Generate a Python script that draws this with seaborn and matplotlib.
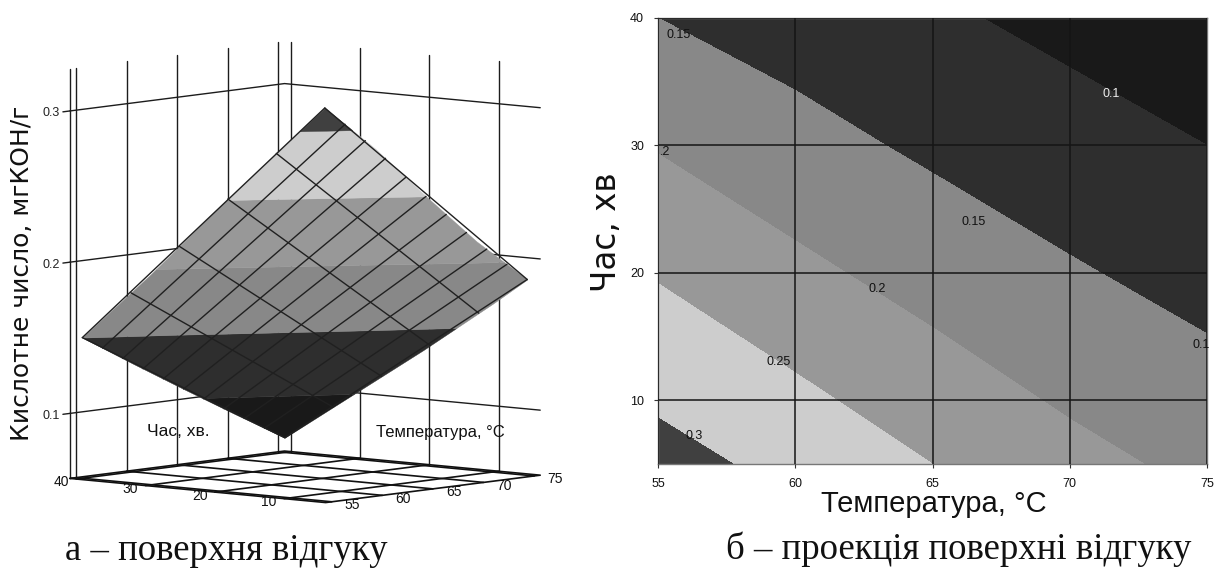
import numpy as np
import matplotlib
matplotlib.use("Agg")
import matplotlib.pyplot as plt
import seaborn as sns
from mpl_toolkits.mplot3d import proj3d
from mpl_toolkits.mplot3d.art3d import Poly3DCollection

# values
temps = [55, 60, 65, 70, 75]
times = [5, 10, 20, 30, 40]
acid_t5 = [0.3170, 0.2857, 0.2500, 0.2159, 0.1865]
acid_t10 = [0.2934, 0.2606, 0.2257, 0.1934, 0.1682]
acid_t20 = [0.2460, 0.2113, 0.1807, 0.1548, 0.1333]
acid_t30 = [0.1967, 0.1664, 0.1415, 0.1205, 0.1000]
acid_t40 = [0.1500, 0.1285, 0.1075, 0.0869, 0.0667]
levels = [0.0, 0.1, 0.15, 0.2, 0.25, 0.3, 0.4]
band_colors = ["#191919", "#2e2e2e", "#888888", "#989898", "#cdcdcd", "#404040"]
z_ticks = [0.1, 0.2, 0.3]
time_ticks = [10, 20, 30, 40]
mesh_temps = [55, 57, 59, 61, 63, 65, 67, 69, 71, 73, 75]
mesh_times = [5, 12, 19, 26, 33, 40]
contour_labels = ["0.15", ".2", "0.1", "0.15", "0.2", "0.25", "0.1", "0.3"]
label_temps = [55.75, 55.25, 71.5, 66.5, 63.0, 59.4, 74.8, 56.3]
label_times = [38.7, 29.5, 34.0, 24.0, 18.7, 13.0, 14.3, 7.2]
label_colors = ["#111111", "#111111", "#eeeeee", "#111111", "#111111", "#111111", "#111111", "#111111"]

sns.set_theme(style="white")
narrow = ["Liberation Sans"]
W, H = 1218, 568
Z = np.array([acid_t5, acid_t10, acid_t20, acid_t30, acid_t40])
palette = sns.color_palette(band_colors)


def surface_z(tp, tm):
    i = np.clip(np.searchsorted(temps, tp) - 1, 0, len(temps) - 2)
    j = np.clip(np.searchsorted(times, tm) - 1, 0, len(times) - 2)
    u = (tp - np.array(temps)[i]) / (np.array(temps)[i + 1] - np.array(temps)[i])
    v = (tm - np.array(times)[j]) / (np.array(times)[j + 1] - np.array(times)[j])
    return (Z[j, i] * (1 - u) * (1 - v) + Z[j, i + 1] * u * (1 - v)
            + Z[j + 1, i] * (1 - u) * v + Z[j + 1, i + 1] * u * v)


fig = plt.figure(figsize=(W / 100, H / 100), dpi=100)

# right: projection
ax2 = fig.add_axes([658 / W, 1 - 464 / H, (1207 - 658) / W, (464 - 18) / H])
cs = ax2.contourf(temps, times, Z, levels=levels, colors=palette)
ax2.set_xlim(55, 75)
ax2.set_ylim(5, 40)
ax2.set_xticks(temps)
ax2.set_yticks([10, 20, 30, 40])
ax2.grid(True, color="#151515", lw=1.1)
ax2.set_axisbelow(False)
for s in ax2.spines.values():
    s.set_color("#777777")
    s.set_linewidth(1.0)
ax2.tick_params(length=3, width=0.8, color="#333333", labelsize=9, pad=7, left=True, bottom=True)
for lab in ax2.get_xticklabels() + ax2.get_yticklabels():
    lab.set_family(narrow)
    lab.set_color("#111111")
for txt, x, y, c in zip(contour_labels, label_temps, label_times, label_colors):
    ax2.text(x, y, txt, color=c, fontsize=9, family=narrow, ha="center", va="center", clip_on=False)

# left: surface
S = 600
cx, cy = 297, 280
ax = fig.add_axes([(cx - S / 2) / W, 1 - (cy + S / 2) / H, S / W, S / H],
                  projection="3d", computed_zorder=False)
T_lo, T_hi, t_lo, t_hi, z_lo, z_hi = 54.4, 75.6, 4.0, 40.9, 0.057, 0.328
ax.set_proj_type("ortho")
ax.view_init(elev=6.3, azim=220.7)
ax.set_box_aspect((320, 328, 401), zoom=1.013)
ax.set_xlim(T_lo, T_hi, view_margin=0)
ax.set_ylim(t_lo, t_hi, view_margin=0)
ax.set_zlim(z_lo, z_hi, view_margin=0)
ax.set_axis_off()
ax.patch.set_alpha(0)


def label3d(x, y, z, txt, size, color="#111111"):
    px, py, _ = proj3d.proj_transform(x, y, z, ax.get_proj())
    ax.text2D(px, py, txt, transform=ax.transData, fontsize=size, family=narrow,
              ha="center", va="center", color=color)


line_kw = dict(color="#1c1c1c", lw=1.0, zorder=1)
for T in [T_lo] + temps:
    ax.plot([T, T], [t_hi, t_hi], [z_lo, z_hi], **line_kw)
for t in time_ticks:
    ax.plot([T_hi, T_hi], [t, t], [z_lo, z_hi], **line_kw)
for z in z_ticks:
    ax.plot([T_lo, T_hi, T_hi], [t_hi, t_hi, t_lo], [z, z, z], **line_kw)
    ax.plot([T_lo - 0.7, T_lo], [t_hi, t_hi], [z, z], **line_kw)
    label3d(T_lo - 1.9, t_hi, z, f"{z:.1f}", 9, "#222222")

base_kw = dict(color="#111111", lw=1.2, zorder=1)
for T in temps:
    ax.plot([T, T], [t_lo, t_hi], [z_lo, z_lo], **base_kw)
    label3d(T, t_lo - 3.0, z_lo - 0.001, str(T), 10)
for t in time_ticks:
    ax.plot([T_lo, T_hi], [t, t], [z_lo, z_lo], **base_kw)
    label3d(T_lo - 1.5, t, z_lo - 0.001, str(t), 10)
ax.plot([T_lo, T_hi, T_hi, T_lo, T_lo], [t_hi, t_hi, t_lo, t_lo, t_hi], [z_lo] * 5, **base_kw)

for k, path in enumerate(cs.get_paths()):
    for poly in path.to_polygons():
        if len(poly) < 3:
            continue
        verts = [(p, q, float(surface_z(p, q))) for p, q in poly]
        ax.add_collection3d(Poly3DCollection([verts], facecolors=[palette[k]], edgecolors=[palette[k]],
                                             linewidths=0.3, zorder=3), autolim=False)

mesh_kw = dict(color="#202020", lw=1.0, zorder=4)
for T in mesh_temps:
    ax.plot([T, T], [times[0], times[-1]], [float(surface_z(T, times[0])), float(surface_z(T, times[-1]))], **mesh_kw)
for t in mesh_times:
    ax.plot([temps[0], temps[-1]], [t, t], [float(surface_z(temps[0], t)), float(surface_z(temps[-1], t))], **mesh_kw)

# texts
fig.text(22 / W, 1 - 273 / H, "Кислотне число, мгКОН/г", rotation=90, fontsize=18,
         family="DejaVu Sans", ha="center", va="center", color="#111111")
fig.text(178 / W, 1 - 432 / H, "Час, хв.", fontsize=12.5, family=narrow, ha="center", va="center", color="#111111")
fig.text(440 / W, 1 - 432 / H, "Температура, °C", fontsize=12, family=narrow, ha="center", va="center", color="#111111")
fig.text(606 / W, 1 - 232 / H, "Час, хв", rotation=90, fontsize=23.5,
         family="DejaVu Sans", ha="center", va="center", color="#111111")
fig.text(934 / W, 1 - 504 / H, "Температура, °C", fontsize=21, family=narrow, ha="center", va="center", color="#111111")
fig.text(226 / W, 1 - 560 / H, "а – поверхня відгуку", fontsize=26.5, family="Liberation Serif", ha="center", va="baseline", color="#111111")
fig.text(959 / W, 1 - 559 / H, "б – проекція поверхні відгуку", fontsize=26.5, family="Liberation Serif", ha="center", va="baseline", color="#111111")

fig.savefig("out.png", dpi=100)
